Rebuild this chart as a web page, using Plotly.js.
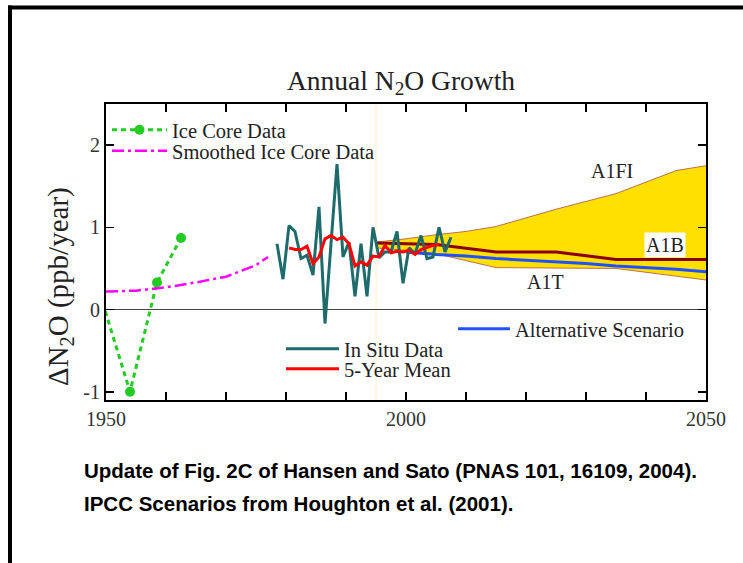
<!DOCTYPE html>
<html>
<head>
<meta charset="utf-8">
<script src="https://cdn.plot.ly/plotly-3.0.1.min.js"></script>
<style>
  html, body { margin: 0; padding: 0; background: #fff; }
  #chart { width: 743px; height: 563px; }
</style>
</head>
<body>
<div id="chart"></div>
<script>
// ---- Data ----
var iceYears = [1949, 1954, 1958.5, 1962.5];
var iceVals  = [0.19, -1.0, 0.33, 0.87];

var smoothYears = [1950, 1955, 1960, 1965, 1970, 1975, 1977];
var smoothVals  = [0.22, 0.23, 0.27, 0.33, 0.40, 0.54, 0.64];

var situYears = [1978.5, 1979.5, 1980.5, 1981.5, 1982.5, 1983.5, 1984.5, 1985.5, 1986.5, 1987.5,
                 1988.5, 1989.5, 1990.5, 1991.5, 1992.5, 1993.5, 1994.5, 1995.5, 1996.5, 1997.5,
                 1998.5, 1999.5, 2000.5, 2001.5, 2002.5, 2003.5, 2004.5, 2005.5, 2006.5, 2007.5];
var situVals  = [0.80, 0.37, 1.02, 0.95, 0.62, 0.66, 0.42, 1.25, -0.17, 0.80,
                 1.77, 0.64, 0.82, 0.16, 0.80, 0.16, 1.00, 0.63, 0.70, 0.70,
                 0.95, 0.32, 0.75, 0.68, 0.90, 0.62, 0.64, 1.00, 0.70, 0.88];

var meanYears = [1980.5, 1981.5, 1982.5, 1983.5, 1984.5, 1985.5, 1986.5, 1987.5, 1988.5, 1989.5,
                 1990.5, 1991.5, 1992.5, 1993.5, 1994.5, 1995.5, 1996.5, 1997.5, 1998.5, 1999.5,
                 2000.5, 2001.5, 2002.5, 2003.5, 2004.5, 2005.5];
var meanVals  = [0.75, 0.73, 0.73, 0.77, 0.56, 0.64, 0.86, 0.90, 0.85, 0.88,
                 0.80, 0.53, 0.58, 0.54, 0.65, 0.64, 0.78, 0.69, 0.71, 0.70,
                 0.72, 0.67, 0.73, 0.76, 0.78, 0.79];

var a1fiYears = [1995, 2000, 2005, 2010, 2015, 2025, 2035, 2045, 2050];
var a1fiVals  = [0.82, 0.86, 0.91, 0.95, 1.01, 1.22, 1.41, 1.69, 1.75];

var a1tYears = [1995, 2000, 2005, 2015, 2035, 2050];
var a1tVals  = [0.75, 0.72, 0.68, 0.51, 0.50, 0.36];

var a1bYears = [1995, 2005, 2015, 2025, 2035, 2050];
var a1bVals  = [0.81, 0.79, 0.70, 0.70, 0.61, 0.61];

var altYears = [2000, 2005, 2010, 2015, 2020, 2025, 2030, 2035, 2040, 2045, 2050];
var altVals  = [0.70, 0.67, 0.65, 0.62, 0.60, 0.58, 0.56, 0.53, 0.51, 0.49, 0.46];

var xTickVals = [1950, 2000, 2050];
var xTickText = ['1950', '2000', '2050'];
var xMinorStep = 10;
var yTickVals = [-1, 0, 1, 2];
var yTickText = ['-1', '0', '1', '2'];

var scenarioStartYear = 1995;

// ---- Styling ----
var serif = 'Liberation Serif, Times New Roman, serif';
var sans = 'Liberation Sans, Arial, sans-serif';

// Polygon of the IPCC range (A1FI upper edge, A1T lower edge)
var bandX = a1fiYears.concat(a1tYears.slice().reverse());
var bandY = a1fiVals.concat(a1tVals.slice().reverse());

var traces = [
  { x: bandX, y: bandY, type: 'scatter', mode: 'lines', fill: 'toself',
    fillcolor: '#ffe000', line: { width: 0 }, showlegend: false, hoverinfo: 'skip' },
  { x: a1fiYears, y: a1fiVals, type: 'scatter', mode: 'lines',
    line: { color: '#c0704a', width: 1 }, showlegend: false },
  { x: a1tYears, y: a1tVals, type: 'scatter', mode: 'lines',
    line: { color: '#c0704a', width: 1 }, showlegend: false },
  { x: a1bYears, y: a1bVals, type: 'scatter', mode: 'lines',
    line: { color: '#8b0000', width: 3 }, showlegend: false },
  { x: altYears, y: altVals, type: 'scatter', mode: 'lines', name: 'Alternative Scenario',
    line: { color: '#2050ff', width: 3 }, legend: 'legend5' },
  { x: situYears, y: situVals, type: 'scatter', mode: 'lines', name: 'In Situ Data',
    line: { color: '#1d6b6b', width: 3 }, legend: 'legend3' },
  { x: meanYears, y: meanVals, type: 'scatter', mode: 'lines', name: '5-Year Mean',
    line: { color: '#ff0000', width: 3 }, legend: 'legend4' },
  { x: iceYears, y: iceVals, type: 'scatter', mode: 'lines+markers', name: 'Ice Core Data',
    line: { color: '#22cc22', width: 3, dash: '5px,4px' }, marker: { color: '#22cc22', size: 10 },
    legend: 'legend' },
  { x: smoothYears, y: smoothVals, type: 'scatter', mode: 'lines', name: 'Smoothed Ice Core Data',
    line: { color: '#ff00ff', width: 2.5, dash: '12px,4px,3px,4px' }, legend: 'legend2' }
];

var L = 106, R = 706, T = 104, B = 400;
function px2x(p) { return (p - L) / (R - L); }
function py2y(p) { return (B - p) / (B - T); }

function legendAt(xpx, ypx, iw) {
  return { x: px2x(xpx), y: py2y(ypx), xanchor: 'left', yanchor: 'middle',
           bgcolor: 'rgba(0,0,0,0)', borderwidth: 0, itemwidth: iw,
           font: { family: serif, size: 20.5, color: '#222' } };
}

var layout = {
  width: 743, height: 563,
  margin: { l: L, r: 743 - R, t: T, b: 563 - B },
  paper_bgcolor: '#fff', plot_bgcolor: '#fff',
  title: { text: 'Annual N<sub>2</sub>O Growth', font: { family: serif, size: 27.5, color: '#222' },
           x: px2x(401), xref: 'paper', xanchor: 'center', y: 1 - 80 / 563, yref: 'container', yanchor: 'middle' },
  xaxis: { range: [1950, 2050], tickvals: xTickVals, ticktext: xTickText, ticks: 'inside', ticklen: 8,
           tickwidth: 1.5, tickcolor: '#000', showline: true, linecolor: '#000', linewidth: 2, mirror: 'ticks',
           minor: { dtick: xMinorStep, tick0: 1950, ticks: 'inside', ticklen: 8, tickwidth: 1.5, tickcolor: '#000', showgrid: false },
           showgrid: false, zeroline: false, tickfont: { family: serif, size: 20, color: '#333' } },
  yaxis: { range: [-1.1, 2.5], tickvals: yTickVals, ticktext: yTickText, ticks: 'inside', ticklen: 8,
           tickwidth: 1.5, tickcolor: '#000', showline: true, linecolor: '#000', linewidth: 2, mirror: 'ticks',
           showgrid: false, zeroline: true, zerolinecolor: '#444', zerolinewidth: 1,
           tickfont: { family: serif, size: 20, color: '#333' } },
  legend: legendAt(107, 130, 55),
  legend2: legendAt(107, 151, 55),
  legend3: legendAt(281, 349, 53),
  legend4: legendAt(281, 369, 53),
  legend5: legendAt(453, 329, 52),
  annotations: [
    { text: '\u0394N<sub>2</sub>O (ppb/year)', xref: 'paper', yref: 'paper', x: px2x(60), y: py2y(287),
      xanchor: 'center', yanchor: 'middle', textangle: -90, showarrow: false,
      font: { family: serif, size: 29, color: '#222' } },
    { text: 'A1FI', x: 2034.3, y: 1.68, xref: 'x', yref: 'y', showarrow: false,
      font: { family: serif, size: 20, color: '#222' } },
    { text: 'A1B', x: 2043.2, y: 0.79, xref: 'x', yref: 'y', showarrow: false, bgcolor: '#fff',
      font: { family: serif, size: 20, color: '#222' } },
    { text: 'A1T', x: 2023.2, y: 0.33, xref: 'x', yref: 'y', showarrow: false,
      font: { family: serif, size: 20, color: '#222' } },
    { text: '<b>Update of Fig. 2C of Hansen and Sato (PNAS 101, 16109, 2004).</b>', xref: 'paper', yref: 'paper',
      x: px2x(82), y: py2y(470), xanchor: 'left', yanchor: 'middle', showarrow: false,
      font: { family: sans, size: 20.5, color: '#000' } },
    { text: '<b>IPCC Scenarios from Houghton et al. (2001).</b>', xref: 'paper', yref: 'paper',
      x: px2x(82), y: py2y(503), xanchor: 'left', yanchor: 'middle', showarrow: false,
      font: { family: sans, size: 20.5, color: '#000' } }
  ],
  shapes: [
    { type: 'line', xref: 'x', yref: 'paper', x0: scenarioStartYear, x1: scenarioStartYear, y0: 0, y1: 1,
      line: { color: 'rgba(255,235,150,0.6)', width: 1 }, layer: 'below' },
    { type: 'line', xref: 'paper', yref: 'paper', x0: px2x(8), x1: px2x(743), y0: py2y(7.5), y1: py2y(7.5),
      line: { color: '#000', width: 4 } },
    { type: 'line', xref: 'paper', yref: 'paper', x0: px2x(10), x1: px2x(10), y0: py2y(5.5), y1: py2y(570),
      line: { color: '#000', width: 4 } }
  ]
};

Plotly.newPlot('chart', traces, layout, { displayModeBar: false, staticPlot: true });
</script>
</body>
</html>
